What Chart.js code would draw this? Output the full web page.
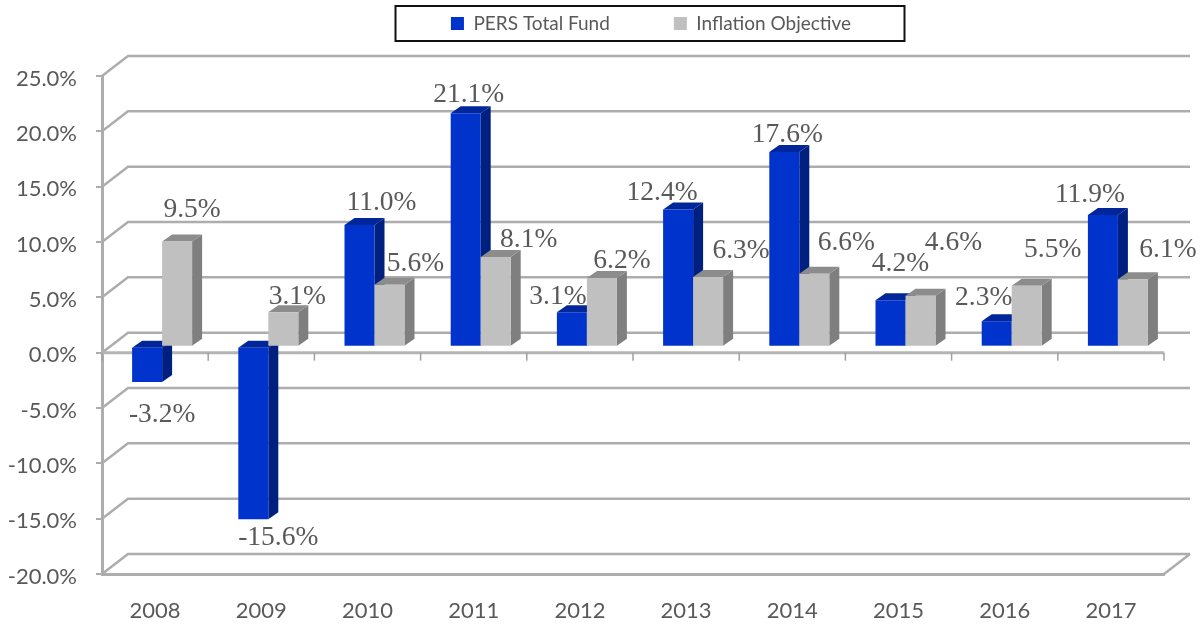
<!DOCTYPE html>
<html>
<head>
<meta charset="utf-8">
<style>html,body{margin:0;padding:0;background:#fff}#w{width:1204px;height:626px}</style>
<script src="https://cdn.jsdelivr.net/npm/chart.js@4/dist/chart.umd.min.js"></script>
</head>
<body>
<div id="w"><canvas id="c" width="1204" height="626"></canvas></div>
<script>
const categories = ['2008','2009','2010','2011','2012','2013','2014','2015','2016','2017'];
const persTotalFund = [-3.2,-15.6,11.0,21.1,3.1,12.4,17.6,4.2,2.3,11.9];
const inflationObjective = [9.5,3.1,5.6,8.1,6.2,6.3,6.6,4.6,5.5,6.1];
const seriesNames = ['PERS Total Fund','Inflation Objective'];

// label nudges from the bar end, in px, as placed in the original
const persLabelNudge = [[15,33],[25,18],[22,-22],[3,-18],[-14,-16],[-16,-17],[3,-17],[10,-36],[-13,-23],[-13,-20]];
const inflLabelNudge = [[15,-32],[14,-16],[26,-21],[33,-17],[20,-17],[33,-26],[32,-31],[33,-53],[26,-36],[35,-29]];

const WALL_DX = 26, WALL_DY = -20;   // depth of the plot box
const BAR_DX = 7, BAR_DY = -6;       // bars stand part-way into the box
const SIDE_DX = 10, SIDE_DY = -7;    // depth of each bar
const TEXT = '#595959', LINE = '#adadad';

const box3d = {
  id: 'box3d',
  beforeInit(chart) {
    const fit = chart.legend.fit;
    chart.legend.fit = function () { fit.call(this); this.height = 76; };
  },
  afterLayout(chart) {
    chart.legend.left += 69; chart.legend.right += 69; chart.legend.top -= 50;
    // the tick text sits slightly low in the original
    const sc = chart.scales.y, draw = sc.drawLabels;
    sc.drawLabels = function (area) {
      const c = this.ctx; c.save(); c.translate(0, 2.5); draw.call(this, area); c.restore();
    };
  },
  beforeDraw(chart) {
    const {ctx, scales: {y}, chartArea: a} = chart;
    ctx.save();
    ctx.strokeStyle = LINE; ctx.lineWidth = 2.5;
    y.ticks.forEach(t => {
      const p = y.getPixelForValue(t.value);
      ctx.beginPath();
      ctx.moveTo(a.left, p);
      ctx.lineTo(a.left + WALL_DX, p + WALL_DY);
      ctx.lineTo(a.right + WALL_DX, p + WALL_DY);
      ctx.stroke();
    });
    const low = y.getPixelForValue(y.min);
    ctx.beginPath();
    ctx.moveTo(a.right, low);
    ctx.lineTo(a.right + WALL_DX, low + WALL_DY);
    ctx.stroke();
    ctx.restore();
  },
  beforeDatasetsDraw(chart) {
    const {ctx, scales: {x, y}, chartArea: a} = chart;
    // zero line with its category ticks
    const z = y.getPixelForValue(0);
    ctx.save();
    ctx.strokeStyle = '#b4b4b4'; ctx.lineWidth = 3;
    ctx.beginPath(); ctx.moveTo(a.left, z); ctx.lineTo(a.right, z); ctx.stroke();
    ctx.lineWidth = 1.5; ctx.strokeStyle = '#a0a0a0';
    const step = (a.right - a.left) / categories.length;
    for (let i = 0; i <= categories.length; i++) {
      const px = x.getPixelForValue(i) - step / 2;
      ctx.beginPath(); ctx.moveTo(px, z); ctx.lineTo(px, z + 8); ctx.stroke();
    }
    ctx.restore();

    const shades = [
      {side: '#002080', top: '#00269a'},
      {side: '#7f7f7f', top: '#8c8c8c'}
    ];
    ctx.save();
    ctx.translate(BAR_DX, BAR_DY);
    [0, 1].forEach(di => {
      const meta = chart.getDatasetMeta(di);
      meta.data.forEach(b => {
        const {x: cx, y: ty, base, width} = b.getProps(['x', 'y', 'base', 'width'], true);
        const l = cx - width / 2, r = cx + width / 2;
        const top = Math.min(ty, base), bot = Math.max(ty, base);
        ctx.fillStyle = shades[di].side;
        ctx.beginPath();
        ctx.moveTo(r, top); ctx.lineTo(r + SIDE_DX, top + SIDE_DY);
        ctx.lineTo(r + SIDE_DX, bot + SIDE_DY); ctx.lineTo(r, bot);
        ctx.closePath(); ctx.fill();
        ctx.fillStyle = shades[di].top;
        ctx.beginPath();
        ctx.moveTo(l, top); ctx.lineTo(l + SIDE_DX, top + SIDE_DY);
        ctx.lineTo(r + SIDE_DX, top + SIDE_DY); ctx.lineTo(r, top);
        ctx.closePath(); ctx.fill();
      });
      meta.controller.draw();
    });
    ctx.restore();
    return false;
  },
  afterDraw(chart) {
    const {ctx} = chart;
    ctx.save();
    ctx.strokeStyle = '#111'; ctx.lineWidth = 2;
    ctx.strokeRect(395.5, 6, 509, 35);
    ctx.font = '27.5px "Liberation Serif"';
    ctx.fillStyle = TEXT; ctx.textAlign = 'center'; ctx.textBaseline = 'middle';
    [persLabelNudge, inflLabelNudge].forEach((nudge, di) => {
      const values = chart.data.datasets[di].data;
      chart.getDatasetMeta(di).data.forEach((b, i) => {
        ctx.fillText(values[i].toFixed(1) + '%',
          b.x + BAR_DX + nudge[i][0], b.y + BAR_DY + nudge[i][1]);
      });
    });
    ctx.restore();
  }
};

new Chart(document.getElementById('c'), {
  type: 'bar',
  data: {
    labels: categories,
    datasets: [
      {label: seriesNames[0], data: persTotalFund, backgroundColor: '#0033cc'},
      {label: seriesNames[1], data: inflationObjective, backgroundColor: '#c0c0c0'}
    ]
  },
  options: {
    responsive: false,
    animation: false,
    layout: {padding: {left: 0, right: 40, top: 0, bottom: 0}},
    datasets: {bar: {categoryPercentage: 0.565, barPercentage: 1}},
    plugins: {
      tooltip: {enabled: false},
      legend: {
        position: 'top',
        labels: {
          boxWidth: 13, boxHeight: 13, padding: 64,
          color: TEXT, font: {family: 'Lato', size: 19}
        }
      }
    },
    scales: {
      x: {
        grid: {display: false},
        border: {display: true, color: LINE, width: 3},
        ticks: {color: TEXT, padding: 16, font: {family: 'Lato', size: 22}, maxRotation: 0},
        afterFit(s) { s.height = 52; }
      },
      y: {
        min: -20, max: 25,
        grid: {drawOnChartArea: false, drawTicks: true, tickLength: 6, color: LINE, lineWidth: 2},
        border: {display: true, color: LINE, width: 3},
        ticks: {
          stepSize: 5, color: TEXT, padding: 19,
          font: {family: 'Lato', size: 22},
          callback: v => v.toFixed(1) + '%'
        },
        afterFit(s) { s.width = 102; }
      }
    }
  },
  plugins: [box3d]
});
</script>
</body>
</html>
